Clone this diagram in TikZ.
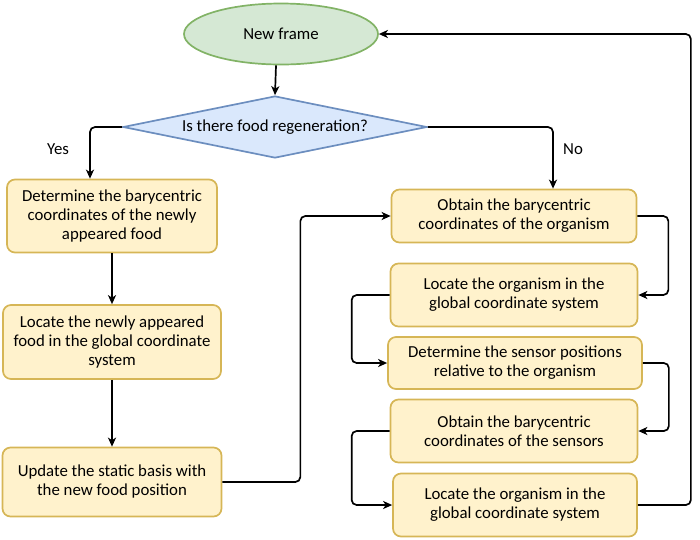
\documentclass[tikz,border=0pt]{standalone}
\usepackage{fontspec}
\setmainfont{Carlito}
\usetikzlibrary{shapes.geometric,arrows.meta}
\definecolor{boxfill}{HTML}{FFF2CC}
\definecolor{boxline}{HTML}{D6B656}
\definecolor{startfill}{HTML}{D5E8D4}
\definecolor{startline}{HTML}{82B366}
\definecolor{askfill}{HTML}{DAE8FC}
\definecolor{askline}{HTML}{6C8EBF}

\begin{document}
\begin{tikzpicture}[x=1pt,y=-1pt,
 font=\fontsize{16.8}{19}\selectfont,
 stepbox/.style={draw=boxline,fill=boxfill,rounded corners=8pt,line width=1.7pt,align=center,inner sep=0pt},
 flow/.style={line width=1.7pt,rounded corners=5pt,-{Stealth[length=9pt,width=8pt,inset=2.5pt]}}]
 \useasboundingbox (0,0) rectangle (700,539);
 \node[ellipse,draw=startline,fill=startfill,line width=1.7pt,minimum width=194pt,minimum height=61pt] (frame) at (281,34) {New frame};
 \node[diamond,aspect=4.9,draw=askline,fill=askfill,line width=1.7pt,inner sep=0pt,minimum width=304pt,minimum height=62pt] (regen) at (275,127) {Is there food regeneration?};
 \node[stepbox,minimum width=210pt,minimum height=73pt] (baryfood) at (112,216) {Determine the barycentric\\coordinates of the newly\\appeared food};
 \node[stepbox,minimum width=218pt,minimum height=74pt] (locfood) at (112,342) {Locate the newly appeared\\food in the global coordinate\\system};
 \node[stepbox,minimum width=219pt,minimum height=69pt] (update) at (112,482) {Update the static basis with\\the new food position};
 \node[stepbox,minimum width=245pt,minimum height=53pt] (baryorg) at (514,216) {Obtain the barycentric\\coordinates of the organism};
 \node[stepbox,minimum width=247pt,minimum height=63pt] (locorg) at (514,295) {Locate the organism in the\\global coordinate system};
 \node[stepbox,minimum width=254pt,minimum height=52pt] (sensors) at (515,363) {Determine the sensor positions\\relative to the organism};
 \node[stepbox,minimum width=247pt,minimum height=63pt] (barysens) at (514,431) {Obtain the barycentric\\coordinates of the sensors};
 \node[stepbox,minimum width=244pt,minimum height=63pt] (locorgb) at (515,505) {Locate the organism in the\\global coordinate system};
 \node (yes) at (58,149) {Yes};
 \node (no) at (573,149) {No};
 \draw[flow] ([xshift=-5pt]frame.south) -- (regen.north);
 \draw[flow] (regen.west) -| ([xshift=-22pt]baryfood.north);
 \draw[flow] (regen.east) -| ([xshift=39pt]baryorg.north);
 \draw[flow] (baryfood) -- (locfood);
 \draw[flow] (locfood) -- (update);
 \draw[flow] (update.east) -- ++(78,0) |- (baryorg.west);
 \draw[flow] (baryorg.east) -- ++(31,0) |- (locorg.east);
 \draw[flow] (locorg.west) -- ++(-38,0) |- (sensors.west);
 \draw[flow] (sensors.east) -- ++(26,0) |- (barysens.east);
 \draw[flow] (barysens.west) -- ++(-38,0) |- (locorgb.west);
 \draw[flow] (locorgb.east) -- ++(53,0) |- (frame.east);
\end{tikzpicture}
\end{document}
